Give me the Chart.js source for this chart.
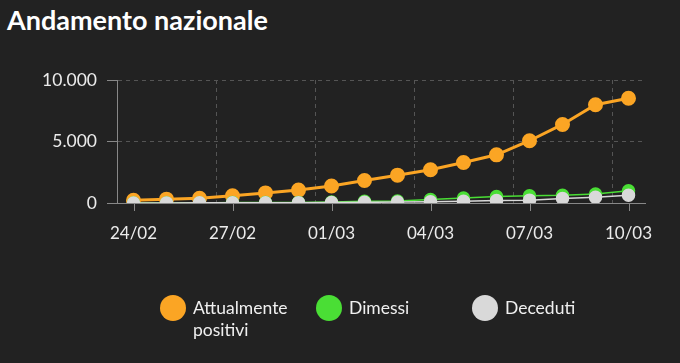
<!DOCTYPE html>
<html>
<head>
<meta charset="utf-8">
<script src="https://cdn.jsdelivr.net/npm/chart.js"></script>
<style>
  body { margin: 0; background: #222222; width: 680px; height: 363px; overflow: hidden; font-family: Lato, "Open Sans", sans-serif; }
  #title { position: absolute; left: 7px; top: 3px; color: #ffffff; font-weight: bold; font-size: 27px; }
  #chart { position: absolute; left: 0; top: 0; }
  #legend { position: absolute; left: 160px; top: 295px; display: flex; }
  .item { display: flex; align-items: flex-start; width: 156px; }
  .dot { width: 26px; height: 26px; border-radius: 50%; flex: none; }
  .txt { color: #f0f0f0; font-size: 17.5px; line-height: 22px; margin-left: 7px; padding-top: 2px; max-width: 115px; }
</style>
</head>
<body>
<div id="title">Andamento nazionale</div>
<canvas id="chart" width="680" height="363"></canvas>
<div id="legend"></div>
<script>
// dati nazionali 24/02 - 10/03
const days = ['24/02', '25/02', '26/02', '27/02', '28/02', '29/02', '01/03', '02/03',
              '03/03', '04/03', '05/03', '06/03', '07/03', '08/03', '09/03', '10/03'];
const positivi = [221, 311, 385, 588, 821, 1049, 1380, 1835, 2263, 2706, 3296, 3916, 5061, 6387, 7985, 8514];
const dimessi = [1, 1, 3, 45, 46, 50, 83, 149, 160, 276, 414, 523, 589, 622, 724, 1004];
const deceduti = [7, 10, 12, 17, 21, 29, 34, 52, 79, 107, 148, 197, 233, 366, 463, 631];
const yTicks = [0, 5000, 10000];

const axisColor = '#888888';
const gridColor = '#555555';
const textColor = '#ebebeb';

// small tick marks under the labelled days
const tickMarks = {
    id: 'tickMarks',
    afterDraw(chart) {
        const x = chart.scales.x;
        const ctx = chart.ctx;
        ctx.save();
        ctx.strokeStyle = axisColor;
        ctx.lineWidth = 1;
        days.forEach((d, i) => {
            if (i % 3 !== 0) return;
            const px = Math.round(x.getPixelForTick(i)) + 0.5;
            ctx.beginPath();
            ctx.moveTo(px, x.top);
            ctx.lineTo(px, x.top + 8);
            ctx.stroke();
        });
        ctx.restore();
    }
};

function fmt(v) {
    return String(v).replace(/\B(?=(\d{3})+(?!\d))/g, '.');
}

const chart = new Chart(document.getElementById('chart'), {
    type: 'line',
    data: {
        labels: days,
        datasets: [
            { label: 'Attualmente positivi', data: positivi, borderColor: '#fba524', backgroundColor: '#fba524', borderWidth: 3, order: 3 },
            { label: 'Dimessi', data: dimessi, borderColor: '#4ade35', backgroundColor: '#4ade35', borderWidth: 1.5, order: 2 },
            { label: 'Deceduti', data: deceduti, borderColor: '#d9d9d9', backgroundColor: '#d9d9d9', borderWidth: 1.5, order: 1 }
        ]
    },
    options: {
        responsive: false,
        animation: false,
        layout: { padding: { top: 80, right: 35, left: 0, bottom: 0 } },
        elements: {
            point: { radius: 6, hoverRadius: 6, borderWidth: 1 },
            line: { tension: 0 }
        },
        plugins: { legend: { display: false }, tooltip: { enabled: false } },
        scales: {
            x: {
                offset: true,
                afterFit: s => { s.height = 160; },
                grid: {
                    offset: true,
                    drawTicks: false,
                    color: ctx => (ctx.index % 3 === 0 && ctx.index > 0) ? gridColor : 'transparent'
                },
                border: { color: axisColor, dash: [4, 4] },
                ticks: {
                    autoSkip: false,
                    maxRotation: 0,
                    padding: 20,
                    color: textColor,
                    font: { family: 'Lato', size: 17 },
                    callback: (v, i) => i % 3 === 0 ? days[i] : ''
                }
            },
            y: {
                min: yTicks[0],
                max: yTicks[yTicks.length - 1],
                afterFit: s => { s.width = 117; },
                afterBuildTicks: s => { s.ticks = yTicks.map(v => ({ value: v })); },
                grid: {
                    color: ctx => ctx.tick && ctx.tick.value === 0 ? 'transparent' : gridColor,
                    tickColor: axisColor,
                    tickLength: 10
                },
                border: { color: axisColor, dash: [4, 4] },
                ticks: {
                    padding: 10,
                    color: textColor,
                    font: { family: 'Lato', size: 17.5 },
                    callback: v => fmt(v)
                }
            }
        }
    },
    plugins: [tickMarks]
});

// legenda in HTML (il testo va a capo)
const legend = document.getElementById('legend');
chart.data.datasets.forEach(ds => {
    const item = document.createElement('div');
    item.className = 'item';
    item.innerHTML = '<span class="dot" style="background:' + ds.backgroundColor + '"></span><span class="txt">' + ds.label + '</span>';
    legend.appendChild(item);
});
</script>
</body>
</html>
